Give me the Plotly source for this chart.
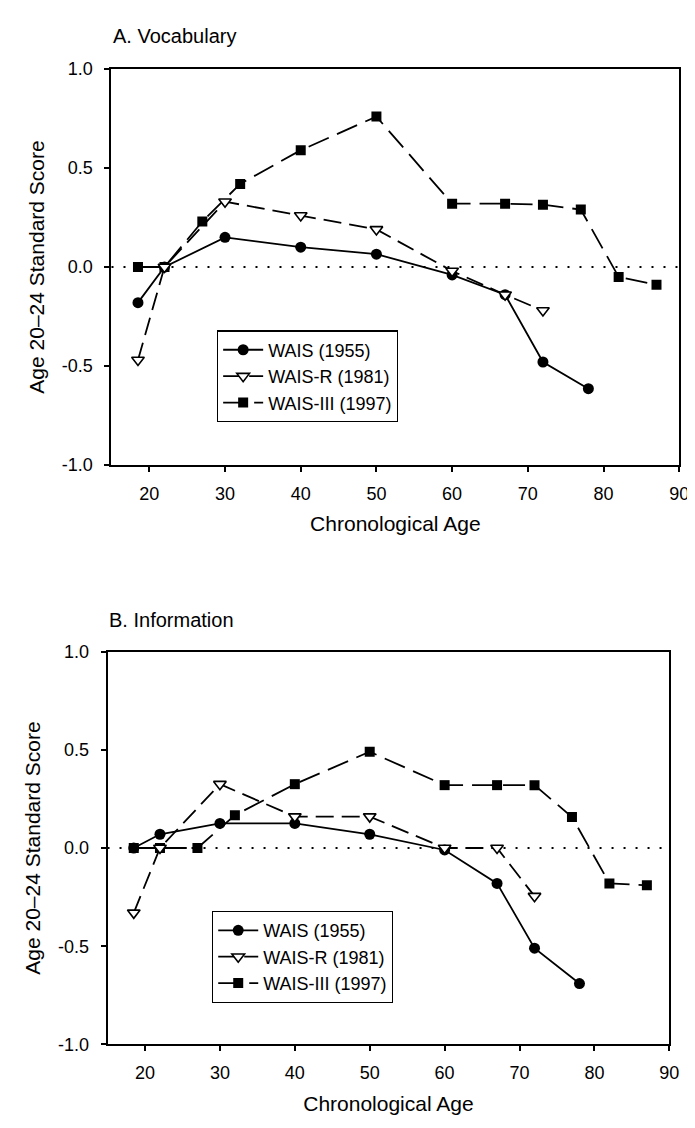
import plotly.graph_objects as go

# ---- data ----
age_wais = [18.5, 22, 30, 40, 50, 60, 67, 72, 78]
age_waisr = [18.5, 22, 30, 40, 50, 60, 67, 72]
age_waisiii = [18.5, 22, 27, 32, 40, 50, 60, 67, 72, 77, 82, 87]

vocab_wais = [-0.18, 0.0, 0.15, 0.10, 0.065, -0.04, -0.14, -0.48, -0.615]
vocab_waisr = [-0.47, 0.0, 0.33, 0.26, 0.19, -0.02, -0.14, -0.22]
vocab_waisiii = [0.0, 0.0, 0.23, 0.42, 0.59, 0.76, 0.32, 0.32, 0.315, 0.29, -0.05, -0.09]

info_wais = [0.0, 0.07, 0.125, 0.125, 0.07, -0.01, -0.18, -0.51, -0.69]
info_waisr = [-0.33, 0.0, 0.325, 0.16, 0.16, 0.0, 0.0, -0.245]
info_waisiii = [0.0, 0.0, 0.0, 0.167, 0.325, 0.49, 0.32, 0.32, 0.32, 0.158, -0.18, -0.19]

series_names = ["WAIS (1955)", "WAIS-R (1981)", "WAIS-III (1997)"]
x_ticks = [20, 30, 40, 50, 60, 70, 80, 90]
y_ticks = [-1.0, -0.5, 0.0, 0.5, 1.0]
y_ticklabels = ["-1.0", "-0.5", "0.0", "0.5", "1.0"]
panel_titles = ["A. Vocabulary", "B. Information"]
x_title = "Chronological Age"
y_title = "Age 20\u201324 Standard Score"

FONT = "Liberation Sans, Arial, sans-serif"
W, H = 695, 1128

fig = go.Figure()

panels = [
    dict(xa="x", ya="y", leg="legend", data=(vocab_wais, vocab_waisr, vocab_waisiii)),
    dict(xa="x2", ya="y2", leg="legend2", data=(info_wais, info_waisr, info_waisiii)),
]

dash_r = "18px,8px"
dash_iii = "22px,9px"

for p in panels:
    w, r, iii = p["data"]
    fig.add_trace(go.Scatter(
        x=age_waisiii, y=iii, name=series_names[2], mode="lines+markers",
        line=dict(color="black", width=1.8, dash=dash_iii),
        marker=dict(symbol="square", size=10, color="black"),
        xaxis=p["xa"], yaxis=p["ya"], legend=p["leg"], legendrank=3))
    fig.add_trace(go.Scatter(
        x=age_wais, y=w, name=series_names[0], mode="lines+markers",
        line=dict(color="black", width=1.8),
        marker=dict(symbol="circle", size=11, color="black"),
        xaxis=p["xa"], yaxis=p["ya"], legend=p["leg"], legendrank=1))
    fig.add_trace(go.Scatter(
        x=age_waisr, y=r, name=series_names[1], mode="lines+markers",
        line=dict(color="black", width=1.8, dash=dash_r),
        marker=dict(symbol="triangle-down", size=11, color="white",
                    line=dict(color="black", width=1.6)),
        xaxis=p["xa"], yaxis=p["ya"], legend=p["leg"], legendrank=2))

def px2x(px):
    return px / W

def px2y(py):
    return 1 - py / H

axA = dict(x0=105, x1=681, y0=52, y1=455)
axB = dict(x0=101, x1=671, y0=645, y1=1045)

common_x = dict(range=[15, 90], tickvals=x_ticks, ticks="outside", ticklen=5,
                tickwidth=1.5, tickcolor="black", showgrid=False, zeroline=False,
                showline=True, linecolor="black", linewidth=2, mirror=True,
                ticklabelstandoff=6,
                tickfont=dict(family=FONT, size=18, color="black"),
                title=dict(text=x_title, font=dict(family=FONT, size=21, color="black"),
                           standoff=14))
common_y = dict(range=[-1.0, 1.0], tickvals=y_ticks, ticktext=y_ticklabels,
                ticks="outside", ticklen=5, tickwidth=1.5, tickcolor="black",
                showgrid=False, zeroline=False, showline=True, linecolor="black",
                linewidth=2, mirror=True, ticklabelstandoff=8,
                tickfont=dict(family=FONT, size=18, color="black"),
                title=dict(text=y_title, font=dict(family=FONT, size=21, color="black"),
                           standoff=12))

legend_common = dict(xanchor="left", yanchor="top", bordercolor="black",
                     borderwidth=1.2, bgcolor="white",
                     font=dict(family=FONT, size=18, color="black"),
                     tracegroupgap=0, itemwidth=40)

fig.update_layout(
    width=W, height=H, margin=dict(l=0, r=0, t=0, b=0),
    paper_bgcolor="white", plot_bgcolor="white",
    font=dict(family=FONT, color="black"),
    xaxis=dict(domain=[px2x(axA["x0"]), px2x(axA["x1"])], anchor="y", **common_x),
    yaxis=dict(domain=[px2y(axA["y1"]), px2y(axA["y0"])], anchor="x", **common_y),
    xaxis2=dict(domain=[px2x(axB["x0"]), px2x(axB["x1"])], anchor="y2", **common_x),
    yaxis2=dict(domain=[px2y(axB["y1"]), px2y(axB["y0"])], anchor="x2", **common_y),
    legend=dict(x=px2x(212), y=px2y(318), **legend_common),
    legend2=dict(x=px2x(207), y=px2y(909), **legend_common),
)

# dotted zero reference lines
for xa, ya in (("x", "y"), ("x2", "y2")):
    fig.add_shape(type="line", xref=xa + " domain", yref=ya, x0=0, x1=1, y0=0, y1=0,
                  line=dict(color="black", width=2, dash="2px,10px"), layer="below")

# panel titles
fig.add_annotation(text=panel_titles[0], xref="paper", yref="paper",
                   x=px2x(104), y=px2y(18), xanchor="left", yanchor="middle",
                   showarrow=False, font=dict(family=FONT, size=20, color="black"))
fig.add_annotation(text=panel_titles[1], xref="paper", yref="paper",
                   x=px2x(100), y=px2y(613), xanchor="left", yanchor="middle",
                   showarrow=False, font=dict(family=FONT, size=20, color="black"))

fig.write_html("out.html")
